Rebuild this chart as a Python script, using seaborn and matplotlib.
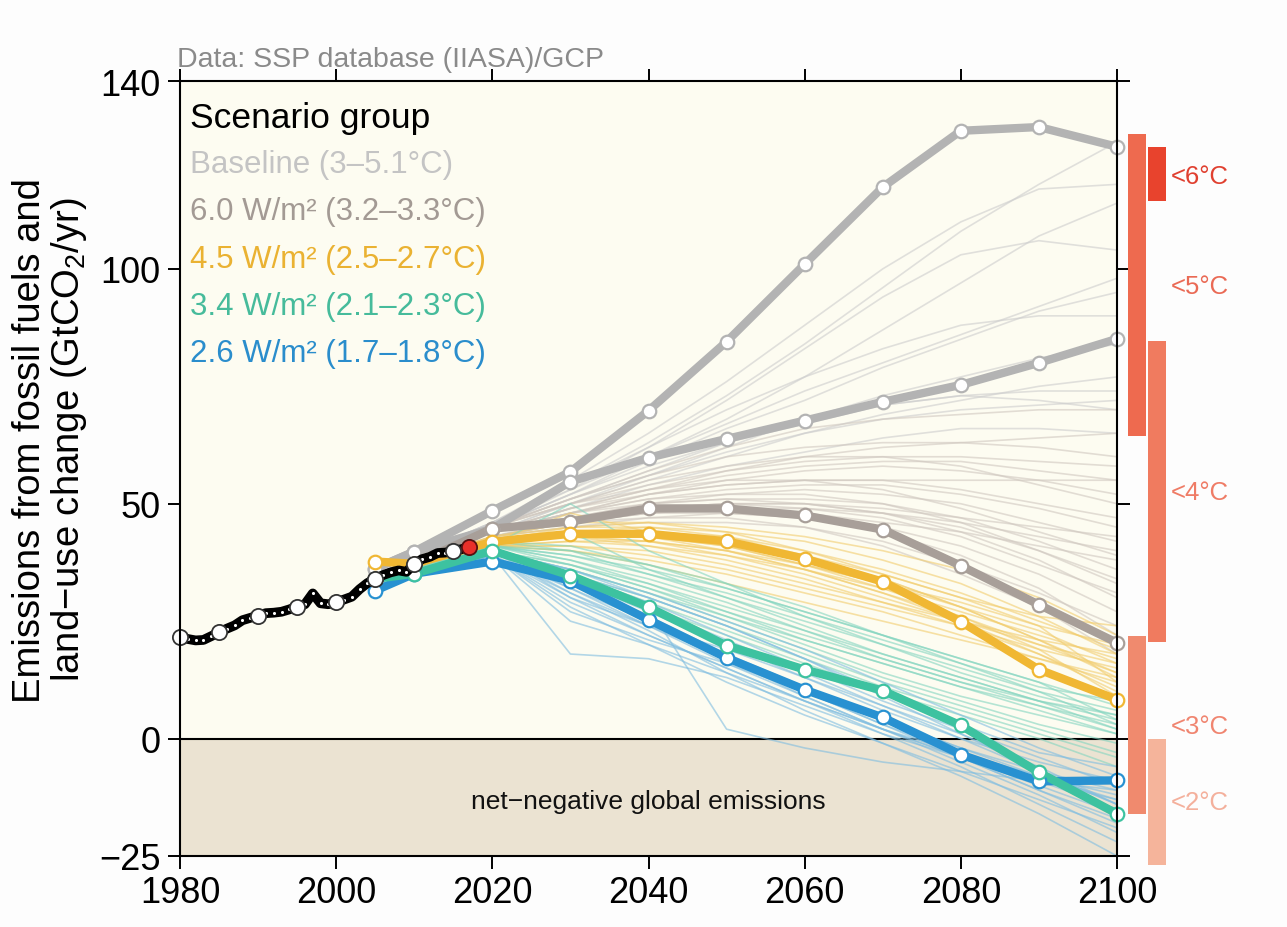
import numpy as np
import pandas as pd
import matplotlib
matplotlib.use("Agg")
import matplotlib.pyplot as plt
import seaborn as sns
from matplotlib.patches import Rectangle
from matplotlib.transforms import blended_transform_factory

# ---------------- data ----------------
hist_years = list(range(1980, 2018))
hist_vals = [21.7, 21.2, 20.9, 21.0, 21.8, 22.6, 23.4, 24.1, 25.2, 25.7,
             26.2, 26.7, 26.8, 27.0, 27.5, 28.1, 28.6, 30.9, 28.8, 28.6,
             29.1, 29.6, 30.2, 31.8, 33.1, 34.0, 34.8, 35.4, 35.8, 35.5,
             37.2, 38.2, 38.7, 39.5, 39.6, 40.0, 40.3, 40.8]
hist_marker_years = [1980, 1985, 1990, 1995, 2000, 2005, 2010, 2015]

scen_years = [2005, 2010, 2020, 2030, 2040, 2050, 2060, 2070, 2080, 2090, 2100]

main_baseline_high = [36.2, 39.8, 48.5, 56.8, 69.8, 84.5, 101.0, 117.4, 129.4, 130.2, 126.0]
main_baseline_low = [36.2, 39.8, 44.7, 54.7, 59.8, 63.8, 67.7, 71.7, 75.3, 80.0, 85.1]
main_60 = [34.0, 37.2, 44.7, 46.2, 49.0, 49.0, 47.5, 44.5, 36.8, 28.5, 20.4]
main_45 = [37.7, 37.2, 41.9, 43.6, 43.6, 42.0, 38.3, 33.4, 24.9, 14.7, 8.3]
main_34 = [34.0, 35.1, 40.0, 34.7, 28.0, 19.8, 14.7, 10.2, 2.8, -7.2, -16.0]
main_26 = [31.5, 35.1, 37.7, 33.6, 25.3, 17.2, 10.4, 4.5, -3.4, -9.1, -8.9]

thin_baseline = [
    [36, 39, 46, 54, 63, 73, 84, 96, 108, 118, 127],
    [36, 39, 46, 55, 65, 76, 88, 100, 110, 117, 118],
    [36, 39, 45, 53, 62, 72, 83, 94, 103, 106, 104],
    [36, 39, 45, 52, 60, 68, 77, 87, 97, 107, 114],
    [36, 39, 45, 52, 59, 66, 72, 79, 85, 91, 95],
    [36, 39, 44, 50, 56, 62, 68, 73, 77, 81, 84],
    [36, 39, 44, 50, 55, 60, 65, 69, 72, 75, 77],
    [36, 39, 44, 49, 54, 58, 61, 64, 66, 66, 65],
    [36, 39, 45, 51, 57, 63, 67, 71, 73, 74, 74],
    [36, 39, 46, 53, 60, 67, 74, 80, 86, 92, 98],
    [36, 39, 46, 54, 62, 70, 77, 83, 88, 90, 90],
    [36, 39, 45, 52, 58, 63, 68, 71, 73, 72, 70],
    [36, 39, 45, 51, 56, 61, 65, 68, 70, 71, 72],
]
thin_60 = [
    [35, 38, 44, 48, 52, 55, 57, 58, 57, 55, 52],
    [35, 38, 44, 47, 50, 52, 53, 52, 50, 46, 42],
    [34, 37, 44, 47, 49, 50, 49, 47, 43, 37, 31],
    [34, 37, 43, 46, 48, 48, 47, 45, 41, 35, 27],
    [35, 38, 44, 48, 51, 53, 54, 54, 52, 49, 45],
    [36, 39, 44, 49, 53, 56, 58, 59, 59, 57, 55],
    [34, 37, 43, 45, 46, 46, 45, 42, 37, 31, 24],
    [35, 38, 44, 47, 50, 51, 51, 50, 47, 42, 36],
    [36, 39, 45, 50, 54, 57, 59, 60, 60, 59, 58],
    [34, 37, 43, 46, 47, 47, 45, 41, 35, 28, 18],
    [35, 38, 44, 48, 50, 51, 50, 48, 45, 40, 34],
    [35, 38, 44, 49, 52, 54, 55, 55, 53, 50, 47],
    [34, 37, 43, 46, 48, 49, 48, 46, 44, 41, 38],
    [36, 39, 45, 51, 56, 60, 62, 63, 63, 62, 60],
    [35, 38, 44, 48, 52, 54, 55, 55, 55, 55, 55],
    [35, 38, 44, 48, 51, 52, 52, 50, 46, 40, 33],
    [35, 38, 45, 50, 53, 55, 55, 53, 49, 44, 39],
    [34, 37, 43, 47, 49, 50, 50, 49, 47, 45, 43],
    [35, 38, 44, 49, 53, 57, 60, 62, 63, 64, 65],
    [36, 39, 45, 50, 55, 58, 60, 60, 58, 54, 50],
    [34, 37, 43, 46, 48, 49, 49, 48, 46, 43, 40],
    [35, 38, 44, 47, 49, 50, 50, 48, 44, 38, 30],
    [35, 38, 45, 51, 57, 62, 66, 68, 69, 70, 70],
    [34, 37, 43, 45, 47, 48, 47, 44, 39, 32, 22],
]
thin_45 = [
    [37.7, 38, 42, 43, 43, 41, 38, 34, 28, 21, 14],
    [37.7, 38, 42, 44, 45, 44, 42, 38, 33, 26, 18],
    [37.7, 38, 41, 42, 41, 39, 36, 32, 27, 22, 17],
    [37.7, 38, 42, 43, 42, 40, 37, 33, 29, 24, 20],
    [37.7, 38, 42, 44, 44, 42, 39, 35, 30, 24, 12],
    [37.7, 38, 41, 41, 39, 36, 32, 28, 24, 19, 15],
    [37.7, 38, 42, 45, 46, 45, 43, 40, 36, 30, 22],
    [37.7, 38, 42, 43, 41, 38, 34, 29, 24, 18, 10],
    [37.7, 38, 41, 40, 38, 35, 31, 27, 22, 17, 12],
    [37.7, 38, 42, 44, 43, 41, 37, 32, 26, 19, 9],
    [37.7, 38, 43, 46, 46, 44, 40, 35, 30, 26, 24],
    [37.7, 38, 41, 42, 42, 40, 36, 31, 25, 18, 11],
    [37.7, 38, 42, 48, 44, 41, 37, 33, 28, 23, 16],
    [37.7, 38, 42, 44, 44, 43, 40, 36, 31, 25, 19],
    [37.7, 38, 41, 41, 40, 37, 33, 29, 25, 21, 18],
    [37.7, 38, 42, 43, 42, 39, 35, 30, 25, 20, 16],
    [37.7, 38, 43, 45, 45, 43, 39, 34, 28, 21, 13],
    [37.7, 38, 42, 44, 43, 40, 36, 31, 26, 20, 14],
    [37.7, 38, 41, 40, 37, 33, 29, 25, 21, 17, 13],
]
thin_34 = [
    [34, 36, 41, 38, 33, 27, 21, 16, 11, 7, 3],
    [34, 36, 40, 37, 32, 26, 20, 14, 9, 5, 1],
    [34, 36, 42, 40, 35, 30, 25, 20, 15, 10, 6],
    [34, 36, 40, 35, 30, 24, 18, 12, 7, 2, -3],
    [34, 36, 41, 39, 35, 31, 26, 21, 16, 11, 8],
    [34, 36, 40, 36, 31, 25, 19, 13, 8, 3, -1],
    [34, 36, 41, 37, 32, 27, 22, 17, 12, 7, 2],
    [34, 36, 42, 41, 37, 32, 27, 22, 17, 12, 4],
    [34, 36, 40, 34, 28, 22, 16, 10, 5, 0, -6],
    [34, 36, 41, 38, 34, 29, 23, 17, 12, 8, 5],
    [34, 36, 41, 50, 40, 33, 26, 20, 14, 9, 5],
    [34, 36, 40, 36, 31, 26, 21, 16, 11, 6, 1],
    [34, 36, 41, 39, 36, 32, 27, 22, 17, 12, 7],
    [34, 36, 40, 35, 29, 23, 17, 11, 6, 1, -4],
    [34, 36, 41, 40, 37, 33, 28, 22, 16, 10, 3],
    [34, 36, 40, 37, 33, 28, 23, 18, 13, 8, 2],
    [34, 36, 41, 44, 36, 30, 24, 18, 13, 8, 4],
]
thin_26 = [
    [32, 35, 40, 34, 27, 20, 13, 6, 0, -5, -9],
    [32, 35, 39, 32, 24, 16, 9, 2, -4, -9, -13],
    [32, 35, 40, 30, 22, 15, 8, 2, -3, -8, -12],
    [32, 35, 39, 18, 17, 13, 7, 1, -4, -10, -16],
    [32, 35, 40, 35, 29, 22, 15, 8, 2, -4, -10],
    [32, 35, 39, 28, 20, 12, 5, -1, -7, -13, -19],
    [32, 35, 40, 33, 25, 17, 9, 2, -5, -12, -20],
    [32, 35, 39, 25, 20, 14, 8, 2, -4, -11, -17],
    [32, 35, 40, 31, 23, 14, 6, -1, -8, -16, -25],
    [32, 35, 40, 36, 30, 24, 17, 10, 3, -3, -6],
    [32, 35, 40, 33, 28, 2, -2, -5, -7, -9, -11],
    [32, 35, 39, 30, 24, 19, 13, 7, 1, -6, -14],
    [32, 35, 40, 34, 28, 21, 14, 7, 0, -7, -14],
    [32, 35, 39, 31, 24, 17, 10, 3, -3, -9, -15],
    [32, 35, 40, 33, 26, 18, 10, 3, -4, -11, -18],
    [32, 35, 40, 36, 31, 25, 19, 12, 5, -2, -8],
    [32, 35, 39, 29, 22, 15, 8, 1, -6, -14, -22],
    [32, 35, 40, 32, 25, 18, 11, 4, -2, -8, -13],
    [32, 35, 40, 35, 30, 24, 17, 9, 1, -7, -14],
    [32, 35, 39, 27, 21, 16, 10, 4, -2, -7, -11],
]

legend_labels = ["Baseline (3–5.1°C)", "6.0 W/m² (3.2–3.3°C)", "4.5 W/m² (2.5–2.7°C)",
                 "3.4 W/m² (2.1–2.3°C)", "2.6 W/m² (1.7–1.8°C)"]

# temperature bars: (low, high) emissions in 2100
bar_left_ranges = [(64.5, 128.7), (-16.0, 21.9)]
bar_right_ranges = [(114.5, 126.0), (20.6, 84.7), (-27.0, 0.0)]
temp_labels = ["<6°C", "<5°C", "<4°C", "<3°C", "<2°C"]
temp_label_y = [119.8, 96.4, 52.6, 2.6, -13.6]

# ---------------- style ----------------
sns.set_style("ticks")
plt.rcParams["font.family"] = ["Liberation Sans", "DejaVu Sans"]
plt.rcParams["mathtext.fontset"] = "custom"
plt.rcParams["mathtext.rm"] = "Liberation Sans"
plt.rcParams["mathtext.it"] = "Liberation Sans"

groups = ["base", "s60", "s45", "s34", "s26"]
thin_colors = {"base": "#cdcdcd", "s60": "#d0c8c0", "s45": "#f2cd6e",
               "s34": "#84d5c0", "s26": "#80bde0"}
thick_colors = {"base": "#b3b3b3", "s60": "#a89f99", "s45": "#f0b733",
                "s34": "#3dc2a0", "s26": "#2891d1"}
text_colors = ["#c4c4c4", "#a39a94", "#eab232", "#46bb9b", "#2a8dcc"]

fig = plt.figure(figsize=(12.87, 9.28), dpi=100)
fig.patch.set_facecolor("#fdfdfd")
ax = fig.add_axes([180 / 1287, 1 - 857 / 928, 937 / 1287, 775 / 928])
ax.set_facecolor("#fdfcf1")
ax.axhspan(-30, 0, color="#ebe3d2", zorder=0, lw=0)
ax.axhline(0, color="black", lw=1.5, zorder=1)

# thin scenario lines
rows = []
for g, lines in zip(groups, [thin_baseline, thin_60, thin_45, thin_34, thin_26]):
    for i, vals in enumerate(lines):
        for yr, v in zip(scen_years, vals):
            rows.append({"year": yr, "value": v, "group": g, "unit": f"{g}{i}"})
thin_df = pd.DataFrame(rows)
sns.lineplot(data=thin_df, x="year", y="value", hue="group", units="unit",
             estimator=None, palette=thin_colors, lw=1.2, alpha=0.6,
             legend=False, ax=ax, zorder=2)

# thick scenario lines
main_sets = [("base", main_baseline_high), ("base", main_baseline_low),
             ("s60", main_60), ("s45", main_45), ("s26", main_26), ("s34", main_34)]
for g, vals in main_sets:
    d = pd.DataFrame({"year": scen_years, "value": vals})
    sns.lineplot(data=d, x="year", y="value", color=thick_colors[g], lw=6,
                 ax=ax, zorder=3, solid_capstyle="round")
    sns.scatterplot(data=d, x="year", y="value", color="white",
                    edgecolor=thick_colors[g], s=95, linewidth=1.6, ax=ax,
                    zorder=4, clip_on=False)

# historical
hd = pd.DataFrame({"year": hist_years, "value": hist_vals})
sns.lineplot(data=hd, x="year", y="value", color="black", lw=7, ax=ax, zorder=5,
             solid_capstyle="round")
sns.scatterplot(data=hd, x="year", y="value", color="white", s=5, linewidth=0,
                ax=ax, zorder=6)
hm = hd[hd["year"].isin(hist_marker_years)]
sns.scatterplot(data=hm, x="year", y="value", color="white", edgecolor="#333333",
                s=120, linewidth=1.3, ax=ax, zorder=7, clip_on=False)
hl = hd[hd["year"] == 2017]
sns.scatterplot(data=hl, x="year", y="value", color="#e8302a", edgecolor="#551111",
                s=120, linewidth=1.3, ax=ax, zorder=8)

# axes
ax.set_xlim(1980, 2100)
ax.set_ylim(-25, 140)
ax.set_xticks([1980, 2000, 2020, 2040, 2060, 2080, 2100])
ax.set_yticks([-25, 0, 50, 100, 140])
ax.set_xlabel("")
ax.set_ylabel("Emissions from fossil fuels and\nland−use change (GtCO$_2$/yr)",
              fontsize=27.5, linespacing=1.05, color="black")
ax.yaxis.set_label_coords(-0.097, 0.538)
ax.tick_params(axis="both", which="both", direction="out", length=9, width=1.4,
               top=True, right=True, labelsize=26, pad=5, colors="black")
for s in ax.spines.values():
    s.set_color("black")
    s.set_linewidth(1.5)
    s.set_zorder(10)

# legend-like text
ax.text(0.011, 0.9535, "Scenario group", transform=ax.transAxes, fontsize=25.5,
        color="black", va="center", ha="left", zorder=11)
for lab, col, yy in zip(legend_labels, text_colors, [0.8929, 0.8323, 0.7703, 0.7097, 0.6490]):
    ax.text(0.011, yy, lab, transform=ax.transAxes, fontsize=22.5, color=col,
            va="center", ha="left", zorder=11)

ax.text(2040, -13.2, "net−negative global emissions", fontsize=19, ha="center",
        va="center", color="#111111", zorder=11)

fig.text(177 / 1287, 1 - 60 / 928, "Data: SSP database (IIASA)/GCP", fontsize=20.5,
         color="#8a8a8a", ha="left", va="center")

# temperature bars
tr = blended_transform_factory(fig.transFigure, ax.transData)
left_cols = ["#ee6a4f", "#f08a6e"]
right_cols = ["#e8432d", "#f07b5f", "#f5b49b"]
for (lo, hi), c in zip(bar_left_ranges, left_cols):
    ax.add_patch(Rectangle((1128 / 1287, lo), 18 / 1287, hi - lo, transform=tr,
                           color=c, clip_on=False, lw=0))
for (lo, hi), c in zip(bar_right_ranges, right_cols):
    ax.add_patch(Rectangle((1148 / 1287, lo), 18 / 1287, hi - lo, transform=tr,
                           color=c, clip_on=False, lw=0))
lab_cols = ["#e04030", "#ea6a55", "#ef7c66", "#f08570", "#f4b09c"]
for lab, yy, c in zip(temp_labels, temp_label_y, lab_cols):
    ax.text(1171 / 1287, yy, lab, transform=tr, fontsize=18.5, color=c,
            ha="left", va="center")

fig.savefig("out.png", dpi=100, facecolor=fig.get_facecolor())
